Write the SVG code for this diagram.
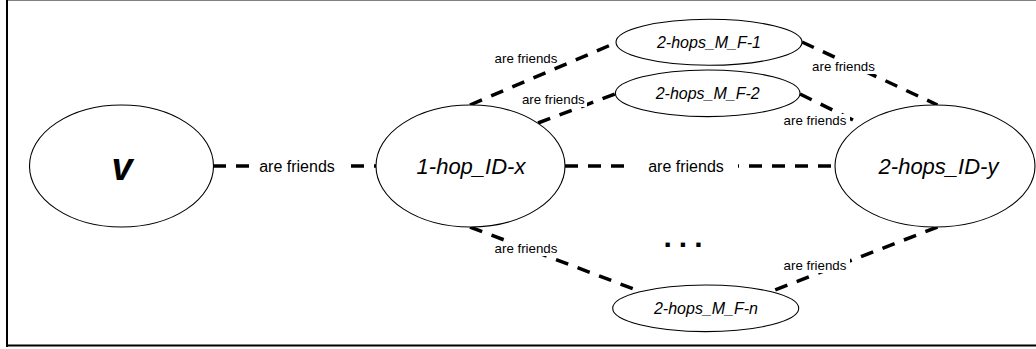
<svg xmlns="http://www.w3.org/2000/svg" width="1036" height="349" viewBox="0 0 1036 349">
<style>
.node{fill:#fff;stroke:#000;stroke-width:1.1}
.edge{stroke:#000;stroke-width:3.5;stroke-dasharray:13 10;fill:none}
.lbl{font-family:"Liberation Sans",Arial,sans-serif;fill:#000;text-anchor:middle}
.big{font-size:22px;font-style:italic}
.mid{font-size:16px;font-style:italic}
.el{font-size:13.3px}
.el16{font-size:16px}
.bg{fill:#fff}
</style>
<rect x="0" y="0" width="1036" height="349" fill="#fff"/>
<line x1="7" y1="0.5" x2="1036" y2="0.5" stroke="#808080" stroke-width="1"/>
<line x1="7" y1="0" x2="7" y2="347" stroke="#000" stroke-width="2"/>
<line x1="6" y1="345.5" x2="1036" y2="345.5" stroke="#000" stroke-width="2"/>

<g id="connectors">
  <line class="edge" x1="213" y1="166" x2="376" y2="166"/>
  <line class="edge" x1="565" y1="166" x2="835" y2="166"/>
  <line class="edge" x1="470" y1="105" x2="616.5" y2="42.5"/>
  <line class="edge" x1="538" y1="123" x2="615" y2="94"/>
  <line class="edge" x1="470" y1="227" x2="639" y2="291"/>
  <line class="edge" x1="802" y1="42" x2="937.5" y2="105"/>
  <line class="edge" x1="800" y1="94" x2="861" y2="124"/>
  <line class="edge" x1="937.5" y1="227" x2="771" y2="291.5"/>
</g>

<g id="node-v">
  <ellipse class="node" cx="121.5" cy="166" rx="92" ry="61"/>
  <text class="lbl" x="122" y="180" font-size="38" font-weight="bold" font-style="italic">v</text>
</g>
<g id="node-1hop">
  <ellipse class="node" cx="470.5" cy="166" rx="94.5" ry="61"/>
  <text class="lbl big" x="471" y="174">1-hop_ID-x</text>
</g>
<g id="node-2hops">
  <ellipse class="node" cx="935" cy="166" rx="100" ry="61"/>
  <text class="lbl big" x="938.5" y="174">2-hops_ID-y</text>
</g>
<g id="node-mf1">
  <ellipse class="node" cx="709" cy="42.3" rx="93" ry="23"/>
  <text class="lbl mid" x="709" y="48.3">2-hops_M_F-1</text>
</g>
<g id="node-mf2">
  <ellipse class="node" cx="707.7" cy="93.3" rx="92.3" ry="23.3"/>
  <text class="lbl mid" x="707.7" y="98.8">2-hops_M_F-2</text>
</g>
<g id="node-mfn">
  <ellipse class="node" cx="705.7" cy="308.3" rx="93" ry="23.3"/>
  <text class="lbl mid" x="706" y="313.8">2-hops_M_F-n</text>
</g>

<g id="edge-labels">
  <rect class="bg" x="249" y="156" width="97" height="20"/>
  <text class="lbl el16" x="297" y="171.7">are friends</text>
  <rect class="bg" x="628" y="156" width="110" height="20"/>
  <text class="lbl el16" x="686" y="171.7">are friends</text>
  <text class="lbl el" x="526" y="63">are friends</text>
  <rect class="bg" x="520" y="93" width="67" height="14"/>
  <text class="lbl el" x="553.3" y="104">are friends</text>
  <rect class="bg" x="492" y="242" width="67" height="14"/>
  <text class="lbl el" x="526" y="253">are friends</text>
  <rect class="bg" x="810" y="60" width="67" height="14"/>
  <text class="lbl el" x="843.5" y="71">are friends</text>
  <rect class="bg" x="781" y="114" width="69" height="14"/>
  <text class="lbl el" x="815" y="125">are friends</text>
  <rect class="bg" x="781" y="259" width="69" height="14"/>
  <text class="lbl el" x="815" y="270">are friends</text>
</g>

<text class="lbl" x="686.5" y="247" font-size="30" font-weight="bold" letter-spacing="7">...</text>
</svg>
